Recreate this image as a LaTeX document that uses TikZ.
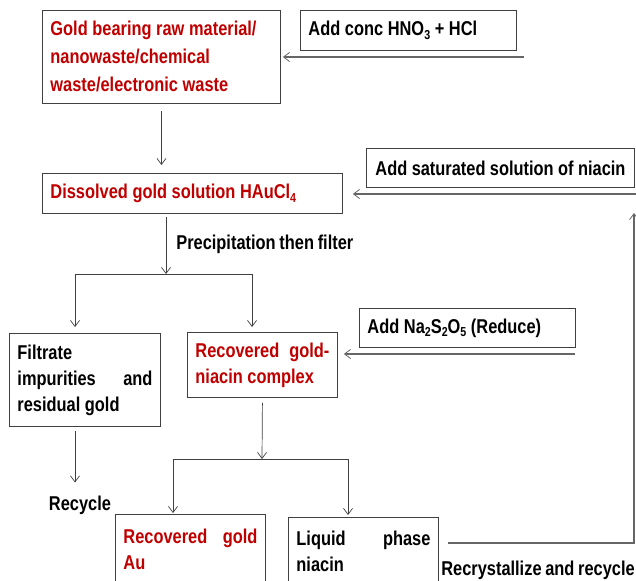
\documentclass[tikz,border=0pt]{standalone}
\usepackage{fontspec}
\setmainfont{Liberation Sans}[FakeStretch=0.82, WordSpace=0.82]
\usetikzlibrary{arrows.meta,positioning}
\definecolor{goldred}{RGB}{192,0,0}
\definecolor{linegray}{RGB}{64,64,64}
\newcommand{\spread}{\hskip 0pt plus 1filll\relax}
\newcommand{\lowsub}[1]{\raisebox{-0.35ex}{\fontsize{13}{13}\selectfont #1}}

\begin{document}
\begin{tikzpicture}[
    x=1pt, y=-1pt,
    every node/.style={font=\fontsize{20}{26}\selectfont\bfseries, inner sep=0pt},
    stepbox/.style={draw=linegray, line width=0.9pt, anchor=north west, inner xsep=8pt, align=left,
        execute at begin node={\spaceskip=0.23em plus 0.1em minus 0.05em\relax}},
    redtext/.style={text=goldred},
    flow/.style={-{Straight Barb[length=6pt,width=9pt]}, draw=linegray, line width=0.7pt},
    plain/.style={draw=linegray, line width=0.7pt},
    feed/.style={draw=black!60, line width=1.6pt},
    feedtip/.style={-{Straight Barb[length=6pt,width=9pt,line width=0.8pt]}}
]
    \useasboundingbox (0,0) rectangle (636,580);

    \node[stepbox, redtext, text width=222pt, minimum height=93pt,
          font=\fontsize{20}{28}\selectfont\bfseries] (raw_mat) at (42,10)
        {Gold bearing raw material/\\nanowaste/chemical\\waste/electronic waste};
    \node[stepbox, text width=200pt, minimum height=40pt] (add_acid) at (300,10)
        {Add conc HNO\lowsub{3} + HCl};
    \node[stepbox, redtext, text width=284pt, minimum height=40pt] (hau_sol) at (42,173)
        {Dissolved gold solution HAuCl\lowsub{4}};
    \node[stepbox, text width=250pt, inner xsep=9pt, minimum height=39pt] (add_niacin) at (366,148)
        {Add saturated solution of niacin};
    \node[stepbox, text width=135pt, minimum height=93pt] (filtrate) at (9,333)
        {Filtrate\\impurities\spread and\\residual gold};
    \node[stepbox, redtext, text width=134pt, minimum height=65pt] (complex) at (187,332)
        {Recovered\spread gold-\\niacin complex};
    \node[stepbox, text width=200pt, minimum height=39pt] (add_reduce) at (359,308)
        {Add Na\lowsub{2}S\lowsub{2}O\lowsub{5} (Reduce)};
    \node[stepbox, redtext, text width=134pt, minimum height=69pt] (gold_au) at (115,514)
        {Recovered\spread gold\\Au};
    \node[stepbox, text width=134pt, minimum height=67pt] (liquid_niacin) at (288,517)
        {Liquid\spread phase\\niacin};
    \node (recycle) at (80,505) {Recycle};
    \node[anchor=east] (recryst) at (635,570) {Recrystallize and recycle};

    \coordinate (acid_in) at (524,57);
    \coordinate (niacin_in) at (636,194);
    \coordinate (reduce_in) at (575,354);
    \coordinate (split_a) at (166,274);
    \coordinate (split_al) at (75,274);
    \coordinate (split_ar) at (252,274);
    \coordinate (split_b) at (262,459);
    \coordinate (split_bl) at (173,459);
    \coordinate (split_br) at (348,459);
    \coordinate (loop_corner) at (634,543);

    \draw[feed, feedtip, shorten >=2pt] (acid_in) -- (acid_in -| raw_mat.east);
    \draw[flow, shorten <=7pt, shorten >=8pt] (raw_mat.south) -- (raw_mat.south |- hau_sol.north);
    \draw[feed, feedtip, shorten >=10pt] (niacin_in) -- (niacin_in -| hau_sol.east);
    \draw[flow, shorten <=3pt] (hau_sol.south -| split_a) -- (split_a)
        node[midway, right=10pt] (prec_label) {Precipitation then filter};
    \draw[plain] (split_al) -- (split_ar);
    \draw[flow, shorten >=6pt] (split_al) -- (split_al |- filtrate.north);
    \draw[flow, shorten >=5pt] (split_ar) -- (split_ar |- complex.north);
    \draw[feed, feedtip, shorten >=6pt] (reduce_in) -- (reduce_in -| complex.east);
    \draw[flow, shorten <=4pt, shorten >=13pt] (filtrate.south -| split_al) -- (split_al |- recycle.north);
    \draw[flow, shorten <=5pt] (complex.south) -- (split_b);
    \draw[plain] (split_bl) -- (split_br);
    \draw[flow, shorten >=1pt] (split_bl) -- (split_bl |- gold_au.north);
    \draw[flow, shorten >=2pt] (split_br) -- (split_br |- liquid_niacin.north);
    \draw[feed, feedtip, shorten >=19pt] ([xshift=9pt]liquid_niacin.east |- loop_corner)
        -- (loop_corner) -- (loop_corner |- niacin_in);
\end{tikzpicture}
\end{document}
